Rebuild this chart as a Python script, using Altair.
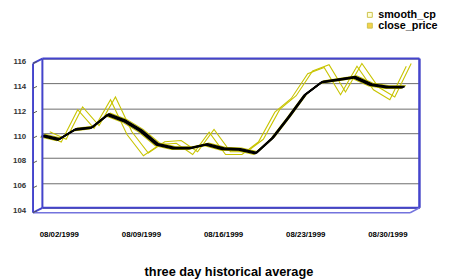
import altair as alt
import pandas as pd

# ---- data ----
dates = ["07/30/1999",
         "08/02/1999", "08/03/1999", "08/04/1999", "08/05/1999", "08/06/1999",
         "08/09/1999", "08/10/1999", "08/11/1999", "08/12/1999", "08/13/1999",
         "08/16/1999", "08/17/1999", "08/18/1999", "08/19/1999", "08/20/1999",
         "08/23/1999", "08/24/1999", "08/25/1999", "08/26/1999", "08/27/1999",
         "08/30/1999", "08/31/1999"]
smooth_cp = [109.8, 109.5, 110.3, 110.45, 111.5, 111.0, 110.2, 109.1, 108.8, 108.8,
             109.1, 108.75, 108.7, 108.4, 109.6, 111.3, 113.1, 114.1, 114.3, 114.5,
             113.9, 113.7, 113.7]
close_price = [110.0, 109.4, 112.0, 110.5, 112.8, 110.0, 108.3, 109.2, 109.3, 108.4,
               110.2, 108.4, 108.4, 109.4, 111.8, 112.9, 114.9, 115.4, 113.2, 115.5,
               113.6, 112.8, 115.5]
series_names = ["smooth_cp", "close_price"]
y_ticks = [104, 106, 108, 110, 112, 114, 116]
x_label_idx = [1, 6, 11, 16, 21]
title_text = "three day historical average"

df = pd.DataFrame({"i": list(range(len(dates))), "date": dates,
                   "smooth_cp": smooth_cp, "close_price": close_price})
tick_df = pd.DataFrame({"v": y_ticks})

# ---- style ----
W, H = 384, 152
FONT = "Liberation Sans"
BLUE = "#4444cc"
BLUE_LIGHT = "#7373dd"
YEL = "#c8c400"

xs = alt.Scale(domain=[0, 22.95], nice=False, zero=False)
ys = alt.Scale(domain=[104, 116], nice=False, zero=False)
label_expr = "[" + ",".join("'%s'" % d for d in dates) + "][datum.value]"

x_axis = alt.Axis(values=x_label_idx, labelExpr=label_expr, grid=False, domain=False,
                  ticks=False, labelPadding=23, labelFont=FONT, labelFontSize=8,
                  labelFontWeight="bold", labelColor="#000", title=None, labelAngle=0,
                  labelOverlap=False)
y_axis = alt.Axis(values=y_ticks, grid=True, gridColor="#6a6a6a", gridWidth=1,
                  domain=False, ticks=False, labelPadding=17, labelOffset=3,
                  labelFont=FONT, labelFontSize=8, labelFontWeight="bold",
                  labelColor="#333", title=None)

one = alt.Data(values=[{"a": 1}])


def line(field, color, width, dx, dy):
    return alt.Chart(df).mark_line(color=color, strokeWidth=width, xOffset=dx,
                                   yOffset=dy, strokeJoin="miter").encode(
        x=alt.X("i:Q", scale=xs, axis=x_axis),
        y=alt.Y(field + ":Q", scale=ys, axis=y_axis),
    )


def seg(x1, y1, x2, y2, color=BLUE, w=2):
    return alt.Chart(one).mark_rule(color=color, strokeWidth=w).encode(
        x=alt.value(x1), y=alt.value(y1), x2=alt.value(x2), y2=alt.value(y2))


layers = []
# close_price: hollow ribbon (two thin yellow edges), lying behind
layers.append(line("close_price", YEL, 1.1, 5 - 2.5, 1.4))
layers.append(line("close_price", YEL, 1.1, 5 + 2.5, -1.4))
# smooth_cp: dark ribbon with yellow edges, in front
layers.append(line("smooth_cp", YEL, 1.1, -2.2, 1.4))
layers.append(line("smooth_cp", YEL, 1.1, 2.2, -1.4))
for k in [-1.0, 0, 1.0]:
    layers.append(line("smooth_cp", "#000000", 1.8, k, -0.55 * k))

# legend (scale domain drives entries; no marks drawn)
legend_layer = alt.Chart(pd.DataFrame({"series": series_names})).mark_square(
    size=25, filled=True).encode(
    color=alt.Color("series:N",
                    scale=alt.Scale(domain=series_names, range=["#ffffc8", "#f0c000"]),
                    legend=alt.Legend(title=None, orient="none", legendX=328, legendY=-50,
                                      symbolType="square", symbolSize=25,
                                      symbolStrokeColor="#b8a800", symbolStrokeWidth=1,
                                      labelFont=FONT, labelFontSize=11,
                                      labelFontWeight="bold", labelColor="#000",
                                      rowPadding=-2, labelOffset=3, padding=0))
).transform_filter("false")
layers.append(legend_layer)

# 3-D frame
D = (-9.5, 5)
layers += [
    seg(0, 0, W, 0),
    seg(0, H, W, H),
    seg(0, 0, 0, H),
    seg(W, 0, W, H, w=2.5),
    seg(D[0], D[1], D[0], H + D[1]),
    seg(D[0], D[1], 0, 0),
    seg(D[0], H + D[1], 0, H),
    seg(D[0], H + D[1], W + D[0], H + D[1], color=BLUE_LIGHT, w=1.5),
    seg(W + D[0], H + D[1], W, H, color=BLUE_LIGHT, w=1.5),
]
# little side-wall ticks at each gridline
layers.append(alt.Chart(tick_df).mark_rule(color="#555", strokeWidth=1, yOffset=5,
                                           y2Offset=3).encode(
    x=alt.value(D[0]), x2=alt.value(D[0] + 4),
    y=alt.Y("v:Q", scale=ys, axis=y_axis), y2="v:Q"))

chart = alt.layer(*layers).properties(
    width=W, height=H,
    title=alt.TitleParams(text=title_text, orient="bottom", anchor="middle", fontSize=13,
                          font=FONT, fontWeight="bold", color="#000", offset=28, dx=-2),
    autosize=alt.AutoSizeParams(type="none"),
    padding={"left": 35, "top": 49, "right": 24, "bottom": 71},
).configure_view(stroke=None).configure(background="white")

chart.save("out.html", embed_options={"renderer": "svg", "actions": False})
